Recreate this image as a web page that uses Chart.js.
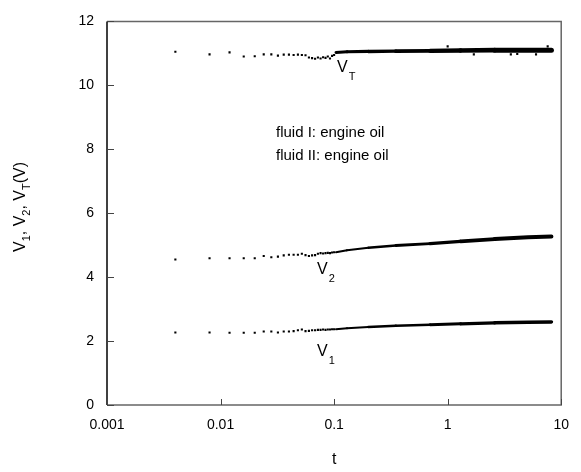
<!DOCTYPE html>
<html>
<head>
<meta charset="utf-8">
<script src="https://cdn.jsdelivr.net/npm/chart.js@4"></script>
<style>
  body { margin: 0; background: #fff; }
  #wrap { width: 581px; height: 472px; }
</style>
</head>
<body>
<div id="wrap"><canvas id="myChart" width="581" height="472"></canvas></div>
<script>
// early samples
const tSparse = [0.004, 0.008, 0.012, 0.016, 0.02, 0.024, 0.028, 0.032, 0.036, 0.04, 0.044, 0.048, 0.052,
  0.056, 0.06, 0.064, 0.068, 0.072, 0.076, 0.08, 0.084, 0.088, 0.092, 0.096, 0.1];
const vTSparse = [11.05, 10.97, 11.03, 10.90, 10.91, 10.97, 10.97, 10.93, 10.96, 10.96, 10.95, 10.96, 10.95,
  10.94, 10.87, 10.85, 10.83, 10.87, 10.84, 10.88, 10.86, 10.90, 10.84, 10.92, 10.95];
const v2Sparse = [4.55, 4.59, 4.59, 4.59, 4.59, 4.66, 4.62, 4.64, 4.68, 4.70, 4.70, 4.70, 4.73,
  4.69, 4.66, 4.68, 4.69, 4.73, 4.75, 4.74, 4.75, 4.76, 4.75, 4.77, 4.78];
const v1Sparse = [2.27, 2.27, 2.26, 2.26, 2.26, 2.30, 2.30, 2.27, 2.30, 2.30, 2.31, 2.34, 2.36,
  2.31, 2.32, 2.34, 2.34, 2.35, 2.35, 2.36, 2.35, 2.36, 2.36, 2.37, 2.37];

// later part is so dense it reads as a thick line
const tDense = [0.104, 0.13, 0.2, 0.35, 0.7, 1.3, 2.6, 5.1, 8.2];
const vTDense = [11.03, 11.05, 11.06, 11.07, 11.08, 11.09, 11.10, 11.10, 11.10];
const v2Dense = [4.78, 4.84, 4.92, 4.99, 5.05, 5.12, 5.19, 5.25, 5.27];
const v1Dense = [2.37, 2.40, 2.44, 2.48, 2.51, 2.54, 2.57, 2.59, 2.60];

// stray points around the V_T band
const tStray = [1.0, 1.7, 3.6, 4.1, 6.0, 7.6];
const vTStray = [11.22, 10.97, 10.97, 10.98, 10.97, 11.22];

const xTicks = [0.001, 0.01, 0.1, 1, 10];
const yTicks = [0, 2, 4, 6, 8, 10, 12];

const FONT = '"Liberation Sans", Arial, sans-serif';
Chart.defaults.font.family = FONT;
Chart.defaults.color = '#000';

function pts(xs, ys) {
  return xs.map((x, i) => ({ x: x, y: ys[i] }));
}

function sparseSet(ys) {
  return {
    data: pts(tSparse, ys), showLine: false,
    pointRadius: 1.5, pointStyle: 'rect', pointBackgroundColor: '#000', pointBorderWidth: 0
  };
}

function denseSet(ys, w0, w1) {
  return {
    data: pts(tDense, ys), showLine: true, pointRadius: 0, borderColor: '#000',
    borderWidth: w1, borderCapStyle: 'round',
    segment: {
      borderWidth: c => {
        let f = Math.log10(c.p0.parsed.x / 0.1) / 1.3;
        f = Math.max(0, Math.min(1, f));
        return w0 + (w1 - w0) * f;
      }
    }
  };
}

// frame, inward ticks, axis title and label texts
const decor = {
  id: 'decor',
  afterDraw(chart) {
    const ctx = chart.ctx;
    const a = chart.chartArea;
    const xs = chart.scales.x, ys = chart.scales.y;
    ctx.save();
    ctx.lineWidth = 1.5;
    ctx.strokeStyle = '#666';
    ctx.beginPath();
    ctx.moveTo(a.left, a.top); ctx.lineTo(a.right, a.top); ctx.lineTo(a.right, a.bottom); ctx.lineTo(a.left, a.bottom);
    ctx.stroke();
    ctx.strokeStyle = '#000';
    ctx.beginPath();
    ctx.moveTo(a.left, a.top); ctx.lineTo(a.left, a.bottom);
    ctx.stroke();
    ctx.lineWidth = 1;
    ctx.strokeStyle = '#444';
    ctx.beginPath();
    yTicks.forEach(v => {
      const y = Math.round(ys.getPixelForValue(v)) + 0.5;
      ctx.moveTo(a.left, y); ctx.lineTo(a.left + 7, y);
    });
    xTicks.forEach(v => {
      const x = Math.round(xs.getPixelForValue(v)) + 0.5;
      ctx.moveTo(x, a.bottom); ctx.lineTo(x, a.bottom - 6);
    });
    ctx.stroke();

    ctx.fillStyle = '#000';
    ctx.textBaseline = 'alphabetic';
    // x title
    ctx.font = '16px ' + FONT;
    ctx.textAlign = 'center';
    ctx.fillText('t', (a.left + a.right) / 2, 464);

    // y title with subscripts
    const parts = [['V', 0], ['1', 1], [', ', 0], ['V', 0], ['2', 1], [', ', 0], ['V', 0], ['T', 1], ['(V)', 0]];
    const big = '16px ' + FONT, small = '11px ' + FONT;
    let total = 0;
    parts.forEach(p => { ctx.font = p[1] ? small : big; total += ctx.measureText(p[0]).width; });
    ctx.translate(25, 207);
    ctx.rotate(-Math.PI / 2);
    let cx = -total / 2;
    ctx.textAlign = 'left';
    parts.forEach(p => {
      ctx.font = p[1] ? small : big;
      ctx.fillText(p[0], cx, p[1] ? 5 : 0);
      cx += ctx.measureText(p[0]).width;
    });
    ctx.setTransform(1, 0, 0, 1, 0, 0);

    // series labels
    const label = (x, y, sub) => {
      ctx.font = '16px ' + FONT;
      ctx.textAlign = 'left';
      ctx.fillText('V', x, y);
      const w = ctx.measureText('V').width;
      ctx.font = '11px ' + FONT;
      ctx.fillText(sub, x + w + 1, y + 8);
    };
    label(337, 72, 'T');
    label(317, 274, '2');
    label(317, 356, '1');

    ctx.font = '15px ' + FONT;
    ctx.fillText('fluid I: engine oil', 276, 137);
    ctx.fillText('fluid II: engine oil', 276, 160);
    ctx.restore();
  }
};

new Chart(document.getElementById('myChart'), {
  type: 'scatter',
  data: {
    datasets: [
      sparseSet(vTSparse), sparseSet(v2Sparse), sparseSet(v1Sparse),
      denseSet(vTDense, 3, 5), denseSet(v2Dense, 2, 4), denseSet(v1Dense, 2, 3.5),
      { data: pts(tStray, vTStray), showLine: false, pointRadius: 1.5, pointStyle: 'rect',
        pointBackgroundColor: '#000', pointBorderWidth: 0 }
    ]
  },
  options: {
    responsive: false,
    animation: false,
    layout: { padding: { left: 0, top: 10, right: 18, bottom: 0 } },
    plugins: { legend: { display: false }, tooltip: { enabled: false } },
    scales: {
      x: {
        type: 'logarithmic', min: 0.001, max: 10,
        grid: { display: false, drawTicks: false }, border: { display: false },
        afterBuildTicks: s => { s.ticks = xTicks.map(v => ({ value: v })); },
        afterFit: s => { s.height = 67; },
        ticks: { font: { size: 14 }, padding: 12, maxRotation: 0, autoSkip: false,
          callback: v => String(v) }
      },
      y: {
        min: 0, max: 12,
        grid: { display: false, drawTicks: false }, border: { display: false },
        afterBuildTicks: s => { s.ticks = yTicks.map(v => ({ value: v })); },
        afterFit: s => { s.width = 107; },
        ticks: { font: { size: 14 }, padding: 13 }
      }
    }
  },
  plugins: [decor]
});
</script>
</body>
</html>
